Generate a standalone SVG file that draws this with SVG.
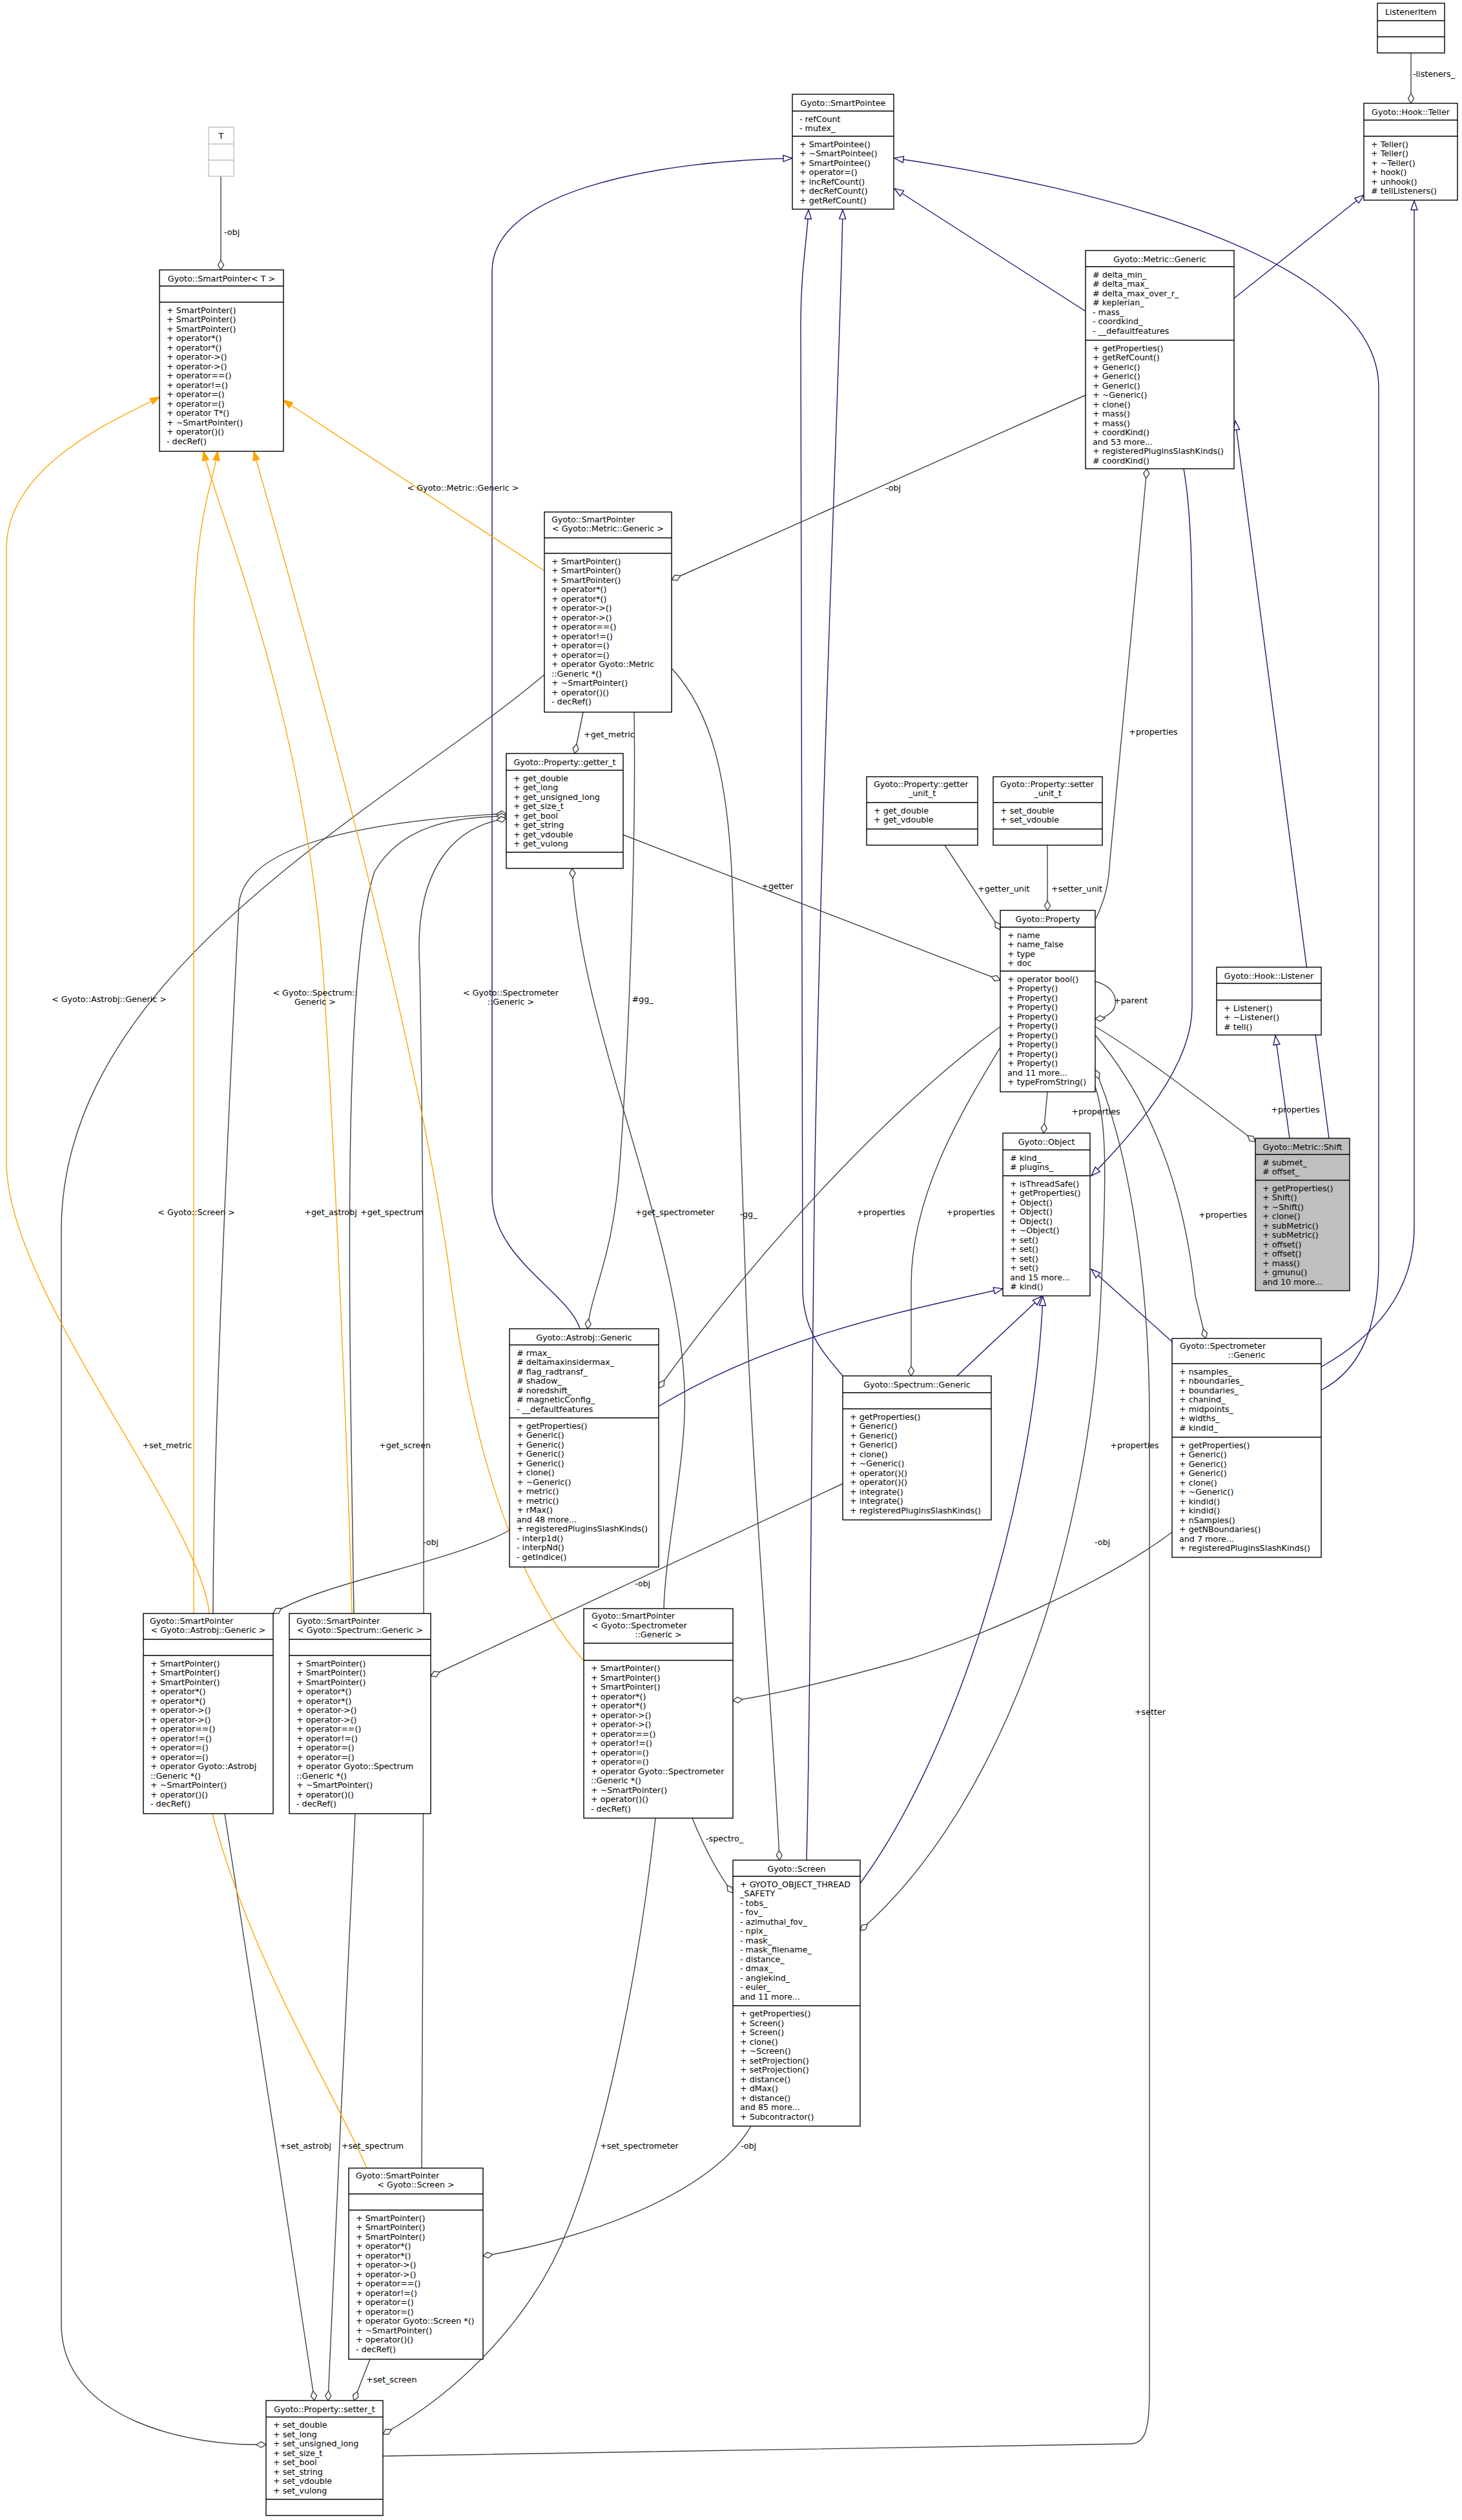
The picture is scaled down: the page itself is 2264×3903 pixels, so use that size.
<svg xmlns="http://www.w3.org/2000/svg" width="2264" height="3903" viewBox="0 0 2264 3903">
<style>
.b{fill:#fff;stroke:#000;stroke-width:1.4}
.g{fill:#bfbfbf;stroke:#000;stroke-width:1.4}
.d{fill:none;stroke:#000;stroke-width:1.4}
.t{font-family:"DejaVu Sans","Liberation Sans",sans-serif;font-size:12.7px;fill:#000}
.c{text-anchor:middle}
.ih{fill:none;stroke:#191970;stroke-width:1.4;marker-end:url(#tri)}
.us{fill:none;stroke:#404040;stroke-width:1.4;marker-end:url(#dia)}
.tp{fill:none;stroke:#ffa500;stroke-width:1.4;marker-end:url(#arr)}
</style>
<defs>
<marker id="tri" markerUnits="userSpaceOnUse" viewBox="-2 -7 18 14" refX="14" refY="0" markerWidth="18" markerHeight="14" orient="auto"><path d="M0,-5 L14,0 L0,5 Z" fill="#fff" stroke="#191970" stroke-width="1.4"/></marker>
<marker id="dia" markerUnits="userSpaceOnUse" viewBox="-2 -7 19 14" refX="15" refY="0" markerWidth="19" markerHeight="14" orient="auto"><path d="M0,0 L7.5,-4.5 L15,0 L7.5,4.5 Z" fill="#fff" stroke="#404040" stroke-width="1.4"/></marker>
<marker id="arr" markerUnits="userSpaceOnUse" viewBox="-2 -7 18 14" refX="14" refY="0" markerWidth="18" markerHeight="14" orient="auto"><path d="M0,-5 L14,0 L0,5 Z" fill="#ffa500" stroke="#ffa500" stroke-width="1.4"/></marker>
</defs>
<rect x="0" y="0" width="2264" height="3903" fill="#fff"/>

<g id="connectors">
<path class="ih" d="M1681,482 L1385,292"/>
<path class="ih" d="M1911,462 L2112,302"/>
<path class="ih" d="M1997,1763 L1975,1604"/>
<path class="ih" d="M2058,1763 L1913,652"/>
<path class="ih" d="M1833,726 C1846,800 1846,900 1846,1000 L1846,1560 C1846,1650 1760,1750 1690,1821"/>
<path class="ih" d="M898,2058 C880,2000 762,1950 762,1850 L762,420 C762,300 1000,250 1227,245"/>
<path class="ih" d="M1020,2178 C1200,2070 1400,2030 1553,1996"/>
<path class="ih" d="M1305,2131 C1270,2090 1245,2060 1243,2000 L1240,500 C1240,420 1250,370 1252,325"/>
<path class="ih" d="M1482,2131 L1613,2008"/>
<path class="ih" d="M1249,2881 C1256,2600 1256,2200 1262,1800 C1275,1100 1300,600 1305,325"/>
<path class="ih" d="M1332,2917 C1470,2730 1600,2350 1615,2008"/>
<path class="ih" d="M1815,2078 L1690,1966"/>
<path class="ih" d="M2046,2117 C2130,2070 2190,2000 2190,1900 L2190,311"/>
<path class="ih" d="M2046,2153 C2110,2120 2135,2050 2135,1950 L2135,600 C2135,400 1700,290 1385,245"/>
<path class="us" d="M2185,82 L2185,160"/>
<path class="us" d="M342,273 L342,418"/>
<path class="us" d="M1681,612 L1040,898"/>
<path class="us" d="M903,1103 L890,1167"/>
<path class="us" d="M982,1103 C985,1300 975,1600 960,1800 C950,1950 915,2000 910,2058"/>
<path class="us" d="M1040,1035 C1100,1100 1130,1200 1135,1400 L1155,2000 C1165,2300 1200,2700 1207,2881"/>
<path class="us" d="M965,1293 L1549,1518"/>
<path class="us" d="M1463,1309 L1549,1440"/>
<path class="us" d="M1622,1309 L1622,1410"/>
<path class="us" d="M1697,1423 C1712,1390 1717,1370 1719,1330 L1776,726"/>
<path class="us" d="M1696,1520 C1738,1530 1738,1575 1696,1578"/>
<path class="us" d="M1696,1590 C1780,1640 1880,1720 1944,1768"/>
<path class="us" d="M1622,1691 L1616,1755"/>
<path class="us" d="M1549,1590 C1400,1700 1200,1900 1020,2150"/>
<path class="us" d="M1549,1622 C1490,1720 1411,1850 1411,1990 L1411,2131"/>
<path class="us" d="M1696,1603 C1760,1680 1830,1800 1851,2007 L1867,2073"/>
<path class="us" d="M1696,1683 C1712,1730 1715,1800 1705,2000 C1690,2400 1550,2800 1332,2990"/>
<path class="us" d="M593,3804 L1750,3785 C1775,3785 1780,3760 1780,3700 L1780,2200 C1780,1950 1740,1760 1696,1657"/>
<path class="us" d="M330,2499 C330,2200 360,1600 370,1400 C380,1300 600,1270 784,1260"/>
<path class="us" d="M548,2499 C540,2000 530,1500 580,1350 C620,1280 700,1265 784,1264"/>
<path class="us" d="M653,3358 C655,3000 660,2000 650,1500 C640,1350 700,1280 784,1268"/>
<path class="us" d="M1028,2491 C1030,2400 1065,2250 1060,2150 C1050,1900 900,1600 886,1345"/>
<path class="us" d="M843,1045 C600,1250 100,1500 95,1900 L95,3600 C95,3750 300,3790 412,3786"/>
<path class="us" d="M348,2809 L430,3340 L487,3718"/>
<path class="us" d="M550,2809 L525,3340 L508,3718"/>
<path class="us" d="M1015,2816 C990,3050 940,3300 880,3450 C830,3580 720,3700 593,3770"/>
<path class="us" d="M573,3654 L548,3718"/>
<path class="us" d="M789,2370 C700,2420 500,2450 423,2499"/>
<path class="us" d="M1305,2298 L667,2596"/>
<path class="us" d="M1815,2373 C1700,2460 1500,2540 1410,2569 C1300,2600 1200,2625 1135,2634"/>
<path class="us" d="M1072,2816 C1090,2860 1110,2900 1135,2932"/>
<path class="us" d="M1163,3293 C1100,3400 900,3470 748,3494"/>
<path class="tp" d="M843,884 L439,620"/>
<path class="tp" d="M324,2499 C310,2350 10,2000 10,1800 L10,850 C10,720 180,650 247,615"/>
<path class="tp" d="M545,2499 C540,2300 520,1800 500,1500 C470,1100 340,800 315,699"/>
<path class="tp" d="M568,3358 C500,3200 300,2900 300,2600 L300,1000 C300,800 330,750 337,699"/>
<path class="tp" d="M904,2572 C820,2480 740,2300 700,2000 C650,1600 450,900 393,699"/>
<text class="t" x="2188" y="119">-listeners_</text>
<text class="t" x="347" y="364">-obj</text>
<text class="t c" x="717" y="760">&lt; Gyoto::Metric::Generic &gt;</text>
<text class="t c" x="1383" y="760">-obj</text>
<text class="t" x="904" y="1142">+get_metric</text>
<text class="t c" x="1786" y="1138">+properties</text>
<text class="t c" x="1204" y="1377">+getter</text>
<text class="t" x="1514" y="1381">+getter_unit</text>
<text class="t" x="1628" y="1381">+setter_unit</text>
<text class="t" x="1725" y="1554">+parent</text>
<text class="t c" x="1697" y="1726">+properties</text>
<text class="t c" x="2006" y="1723">+properties</text>
<text class="t c" x="169" y="1552">&lt; Gyoto::Astrobj::Generic &gt;</text>
<text class="t c" x="488" y="1542">&lt; Gyoto::Spectrum::</text>
<text class="t c" x="488" y="1556">Generic &gt;</text>
<text class="t c" x="791" y="1542">&lt; Gyoto::Spectrometer</text>
<text class="t c" x="791" y="1556">::Generic &gt;</text>
<text class="t c" x="995" y="1552">#gg_</text>
<text class="t c" x="304" y="1882">&lt; Gyoto::Screen &gt;</text>
<text class="t c" x="512" y="1882">+get_astrobj</text>
<text class="t c" x="607" y="1882">+get_spectrum</text>
<text class="t c" x="1045" y="1882">+get_spectrometer</text>
<text class="t c" x="1159" y="1885">-gg_</text>
<text class="t c" x="1364" y="1882">+properties</text>
<text class="t c" x="1503" y="1882">+properties</text>
<text class="t" x="1856" y="1886">+properties</text>
<text class="t c" x="259" y="2243">+set_metric</text>
<text class="t c" x="627" y="2243">+get_screen</text>
<text class="t c" x="1757" y="2243">+properties</text>
<text class="t c" x="667" y="2393">-obj</text>
<text class="t c" x="995" y="2457">-obj</text>
<text class="t c" x="1707" y="2393">-obj</text>
<text class="t c" x="1781" y="2656">+setter</text>
<text class="t" x="1093" y="2852">-spectro_</text>
<text class="t c" x="473" y="3328">+set_astrobj</text>
<text class="t c" x="577" y="3328">+set_spectrum</text>
<text class="t c" x="990" y="3328">+set_spectrometer</text>
<text class="t c" x="1159" y="3328">-obj</text>
<text class="t" x="567" y="3690">+set_screen</text>
</g>

<g id="ListenerItem">
<rect class="b" x="2133" y="5" width="104" height="77"/>
<path class="d" d="M2133,32H2237M2133,57H2237"/>
<text class="t c" x="2185" y="22.5">ListenerItem</text>
</g>

<g id="Teller">
<rect class="b" x="2112" y="160" width="145" height="150"/>
<path class="d" d="M2112,186H2257M2112,211H2257"/>
<text class="t c" x="2184.5" y="177.5">Gyoto::Hook::Teller</text>
<text class="t" x="2123" y="227.5"><tspan x="2123">+ Teller()</tspan><tspan x="2123" dy="14.5">+ Teller()</tspan><tspan x="2123" dy="14.5">+ ~Teller()</tspan><tspan x="2123" dy="14.5">+ hook()</tspan><tspan x="2123" dy="14.5">+ unhook()</tspan><tspan x="2123" dy="14.5"># tellListeners()</tspan></text>
</g>

<g id="SmartPointee">
<rect class="b" x="1227" y="146" width="157" height="178"/>
<path class="d" d="M1227,172H1384M1227,211H1384"/>
<text class="t c" x="1305.5" y="163.5">Gyoto::SmartPointee</text>
<text class="t" x="1238" y="188.5"><tspan x="1238">- refCount</tspan><tspan x="1238" dy="14.5">- mutex_</tspan></text>
<text class="t" x="1238" y="227.5"><tspan x="1238">+ SmartPointee()</tspan><tspan x="1238" dy="14.5">+ ~SmartPointee()</tspan><tspan x="1238" dy="14.5">+ SmartPointee()</tspan><tspan x="1238" dy="14.5">+ operator=()</tspan><tspan x="1238" dy="14.5">+ incRefCount()</tspan><tspan x="1238" dy="14.5">+ decRefCount()</tspan><tspan x="1238" dy="14.5">+ getRefCount()</tspan></text>
</g>

<g id="T">
<rect x="323" y="197" width="39" height="76" fill="#fff" stroke="#bfbfbf" stroke-width="1.4"/>
<path d="M323,223H362M323,248H362" stroke="#bfbfbf" stroke-width="1.4"/>
<text class="t c" x="342.5" y="214.5">T</text>
</g>

<g id="SmartPointerT">
<rect class="b" x="247" y="418" width="192" height="281"/>
<path class="d" d="M247,443H439M247,468H439"/>
<text class="t c" x="343" y="435.5">Gyoto::SmartPointer&lt; T &gt;</text>
<text class="t" x="258" y="484.5"><tspan x="258">+ SmartPointer()</tspan><tspan x="258" dy="14.5">+ SmartPointer()</tspan><tspan x="258" dy="14.5">+ SmartPointer()</tspan><tspan x="258" dy="14.5">+ operator*()</tspan><tspan x="258" dy="14.5">+ operator*()</tspan><tspan x="258" dy="14.5">+ operator-&gt;()</tspan><tspan x="258" dy="14.5">+ operator-&gt;()</tspan><tspan x="258" dy="14.5">+ operator==()</tspan><tspan x="258" dy="14.5">+ operator!=()</tspan><tspan x="258" dy="14.5">+ operator=()</tspan><tspan x="258" dy="14.5">+ operator=()</tspan><tspan x="258" dy="14.5">+ operator T*()</tspan><tspan x="258" dy="14.5">+ ~SmartPointer()</tspan><tspan x="258" dy="14.5">+ operator()()</tspan><tspan x="258" dy="14.5">- decRef()</tspan></text>
</g>

<g id="MetricGeneric">
<rect class="b" x="1681" y="388" width="230" height="338"/>
<path class="d" d="M1681,413H1911M1681,527H1911"/>
<text class="t c" x="1796" y="405.5">Gyoto::Metric::Generic</text>
<text class="t" x="1692" y="429.5"><tspan x="1692"># delta_min_</tspan><tspan x="1692" dy="14.5"># delta_max_</tspan><tspan x="1692" dy="14.5"># delta_max_over_r_</tspan><tspan x="1692" dy="14.5"># keplerian_</tspan><tspan x="1692" dy="14.5">- mass_</tspan><tspan x="1692" dy="14.5">- coordkind_</tspan><tspan x="1692" dy="14.5">- __defaultfeatures</tspan></text>
<text class="t" x="1692" y="543.5"><tspan x="1692">+ getProperties()</tspan><tspan x="1692" dy="14.5">+ getRefCount()</tspan><tspan x="1692" dy="14.5">+ Generic()</tspan><tspan x="1692" dy="14.5">+ Generic()</tspan><tspan x="1692" dy="14.5">+ Generic()</tspan><tspan x="1692" dy="14.5">+ ~Generic()</tspan><tspan x="1692" dy="14.5">+ clone()</tspan><tspan x="1692" dy="14.5">+ mass()</tspan><tspan x="1692" dy="14.5">+ mass()</tspan><tspan x="1692" dy="14.5">+ coordKind()</tspan><tspan x="1692" dy="14.5">and 53 more...</tspan><tspan x="1692" dy="14.5">+ registeredPluginsSlashKinds()</tspan><tspan x="1692" dy="14.5"># coordKind()</tspan></text>
</g>

<g id="SmartPointerMetric">
<rect class="b" x="843" y="793" width="197" height="310"/>
<path class="d" d="M843,833H1040M843,857H1040"/>
<text class="t" x="854" y="809">Gyoto::SmartPointer</text>
<text class="t c" x="941.5" y="823">&lt; Gyoto::Metric::Generic &gt;</text>
<text class="t" x="854" y="873.5"><tspan x="854">+ SmartPointer()</tspan><tspan x="854" dy="14.5">+ SmartPointer()</tspan><tspan x="854" dy="14.5">+ SmartPointer()</tspan><tspan x="854" dy="14.5">+ operator*()</tspan><tspan x="854" dy="14.5">+ operator*()</tspan><tspan x="854" dy="14.5">+ operator-&gt;()</tspan><tspan x="854" dy="14.5">+ operator-&gt;()</tspan><tspan x="854" dy="14.5">+ operator==()</tspan><tspan x="854" dy="14.5">+ operator!=()</tspan><tspan x="854" dy="14.5">+ operator=()</tspan><tspan x="854" dy="14.5">+ operator=()</tspan><tspan x="854" dy="14.5">+ operator Gyoto::Metric</tspan><tspan x="854" dy="14.5">::Generic *()</tspan><tspan x="854" dy="14.5">+ ~SmartPointer()</tspan><tspan x="854" dy="14.5">+ operator()()</tspan><tspan x="854" dy="14.5">- decRef()</tspan></text>
</g>

<g id="getter_t">
<rect class="b" x="784" y="1167" width="181" height="178"/>
<path class="d" d="M784,1193H965M784,1320H965"/>
<text class="t c" x="874.5" y="1184.5">Gyoto::Property::getter_t</text>
<text class="t" x="795" y="1209.5"><tspan x="795">+ get_double</tspan><tspan x="795" dy="14.5">+ get_long</tspan><tspan x="795" dy="14.5">+ get_unsigned_long</tspan><tspan x="795" dy="14.5">+ get_size_t</tspan><tspan x="795" dy="14.5">+ get_bool</tspan><tspan x="795" dy="14.5">+ get_string</tspan><tspan x="795" dy="14.5">+ get_vdouble</tspan><tspan x="795" dy="14.5">+ get_vulong</tspan></text>
</g>

<g id="getter_unit_t">
<rect class="b" x="1342" y="1203" width="172" height="106"/>
<path class="d" d="M1342,1243H1514M1342,1284H1514"/>
<text class="t" x="1353" y="1219">Gyoto::Property::getter</text>
<text class="t c" x="1428" y="1233">_unit_t</text>
<text class="t" x="1353" y="1259.5"><tspan x="1353">+ get_double</tspan><tspan x="1353" dy="14.5">+ get_vdouble</tspan></text>
</g>

<g id="setter_unit_t">
<rect class="b" x="1538" y="1203" width="169" height="106"/>
<path class="d" d="M1538,1243H1707M1538,1284H1707"/>
<text class="t" x="1549" y="1219">Gyoto::Property::setter</text>
<text class="t c" x="1622.5" y="1233">_unit_t</text>
<text class="t" x="1549" y="1259.5"><tspan x="1549">+ set_double</tspan><tspan x="1549" dy="14.5">+ set_vdouble</tspan></text>
</g>

<g id="Property">
<rect class="b" x="1549" y="1410" width="147" height="281"/>
<path class="d" d="M1549,1436H1696M1549,1504H1696"/>
<text class="t c" x="1622.5" y="1427.5">Gyoto::Property</text>
<text class="t" x="1560" y="1452.5"><tspan x="1560">+ name</tspan><tspan x="1560" dy="14.5">+ name_false</tspan><tspan x="1560" dy="14.5">+ type</tspan><tspan x="1560" dy="14.5">+ doc</tspan></text>
<text class="t" x="1560" y="1520.5"><tspan x="1560">+ operator bool()</tspan><tspan x="1560" dy="14.5">+ Property()</tspan><tspan x="1560" dy="14.5">+ Property()</tspan><tspan x="1560" dy="14.5">+ Property()</tspan><tspan x="1560" dy="14.5">+ Property()</tspan><tspan x="1560" dy="14.5">+ Property()</tspan><tspan x="1560" dy="14.5">+ Property()</tspan><tspan x="1560" dy="14.5">+ Property()</tspan><tspan x="1560" dy="14.5">+ Property()</tspan><tspan x="1560" dy="14.5">+ Property()</tspan><tspan x="1560" dy="14.5">and 11 more...</tspan><tspan x="1560" dy="14.5">+ typeFromString()</tspan></text>
</g>

<g id="Listener">
<rect class="b" x="1884" y="1498" width="162" height="105"/>
<path class="d" d="M1884,1523H2046M1884,1549H2046"/>
<text class="t c" x="1965" y="1515.5">Gyoto::Hook::Listener</text>
<text class="t" x="1895" y="1565.5"><tspan x="1895">+ Listener()</tspan><tspan x="1895" dy="14.5">+ ~Listener()</tspan><tspan x="1895" dy="14.5"># tell()</tspan></text>
</g>

<g id="Object">
<rect class="b" x="1553" y="1755" width="135" height="252"/>
<path class="d" d="M1553,1781H1688M1553,1821H1688"/>
<text class="t c" x="1620.5" y="1772.5">Gyoto::Object</text>
<text class="t" x="1564" y="1797.5"><tspan x="1564"># kind_</tspan><tspan x="1564" dy="14.5"># plugins_</tspan></text>
<text class="t" x="1564" y="1837.5"><tspan x="1564">+ isThreadSafe()</tspan><tspan x="1564" dy="14.5">+ getProperties()</tspan><tspan x="1564" dy="14.5">+ Object()</tspan><tspan x="1564" dy="14.5">+ Object()</tspan><tspan x="1564" dy="14.5">+ Object()</tspan><tspan x="1564" dy="14.5">+ ~Object()</tspan><tspan x="1564" dy="14.5">+ set()</tspan><tspan x="1564" dy="14.5">+ set()</tspan><tspan x="1564" dy="14.5">+ set()</tspan><tspan x="1564" dy="14.5">+ set()</tspan><tspan x="1564" dy="14.5">and 15 more...</tspan><tspan x="1564" dy="14.5"># kind()</tspan></text>
</g>

<g id="MetricShift">
<rect class="g" x="1944" y="1763" width="146" height="236"/>
<path class="d" d="M1944,1788H2090M1944,1828H2090"/>
<text class="t c" x="2017" y="1780.5">Gyoto::Metric::Shift</text>
<text class="t" x="1955" y="1804.5"><tspan x="1955"># submet_</tspan><tspan x="1955" dy="14.5"># offset_</tspan></text>
<text class="t" x="1955" y="1844.5"><tspan x="1955">+ getProperties()</tspan><tspan x="1955" dy="14.5">+ Shift()</tspan><tspan x="1955" dy="14.5">+ ~Shift()</tspan><tspan x="1955" dy="14.5">+ clone()</tspan><tspan x="1955" dy="14.5">+ subMetric()</tspan><tspan x="1955" dy="14.5">+ subMetric()</tspan><tspan x="1955" dy="14.5">+ offset()</tspan><tspan x="1955" dy="14.5">+ offset()</tspan><tspan x="1955" dy="14.5">+ mass()</tspan><tspan x="1955" dy="14.5">+ gmunu()</tspan><tspan x="1955" dy="14.5">and 10 more...</tspan></text>
</g>

<g id="AstrobjGeneric">
<rect class="b" x="789" y="2058" width="231" height="369"/>
<path class="d" d="M789,2083H1020M789,2196H1020"/>
<text class="t c" x="904.5" y="2075.5">Gyoto::Astrobj::Generic</text>
<text class="t" x="800" y="2099.5"><tspan x="800"># rmax_</tspan><tspan x="800" dy="14.5"># deltamaxinsidermax_</tspan><tspan x="800" dy="14.5"># flag_radtransf_</tspan><tspan x="800" dy="14.5"># shadow_</tspan><tspan x="800" dy="14.5"># noredshift_</tspan><tspan x="800" dy="14.5"># magneticConfig_</tspan><tspan x="800" dy="14.5">- __defaultfeatures</tspan></text>
<text class="t" x="800" y="2212.5"><tspan x="800">+ getProperties()</tspan><tspan x="800" dy="14.5">+ Generic()</tspan><tspan x="800" dy="14.5">+ Generic()</tspan><tspan x="800" dy="14.5">+ Generic()</tspan><tspan x="800" dy="14.5">+ Generic()</tspan><tspan x="800" dy="14.5">+ clone()</tspan><tspan x="800" dy="14.5">+ ~Generic()</tspan><tspan x="800" dy="14.5">+ metric()</tspan><tspan x="800" dy="14.5">+ metric()</tspan><tspan x="800" dy="14.5">+ rMax()</tspan><tspan x="800" dy="14.5">and 48 more...</tspan><tspan x="800" dy="14.5">+ registeredPluginsSlashKinds()</tspan><tspan x="800" dy="14.5">- interp1d()</tspan><tspan x="800" dy="14.5">- interpNd()</tspan><tspan x="800" dy="14.5">- getIndice()</tspan></text>
</g>

<g id="SpectrumGeneric">
<rect class="b" x="1305" y="2131" width="230" height="223"/>
<path class="d" d="M1305,2157H1535M1305,2182H1535"/>
<text class="t c" x="1420" y="2148.5">Gyoto::Spectrum::Generic</text>
<text class="t" x="1316" y="2198.5"><tspan x="1316">+ getProperties()</tspan><tspan x="1316" dy="14.5">+ Generic()</tspan><tspan x="1316" dy="14.5">+ Generic()</tspan><tspan x="1316" dy="14.5">+ Generic()</tspan><tspan x="1316" dy="14.5">+ clone()</tspan><tspan x="1316" dy="14.5">+ ~Generic()</tspan><tspan x="1316" dy="14.5">+ operator()()</tspan><tspan x="1316" dy="14.5">+ operator()()</tspan><tspan x="1316" dy="14.5">+ integrate()</tspan><tspan x="1316" dy="14.5">+ integrate()</tspan><tspan x="1316" dy="14.5">+ registeredPluginsSlashKinds()</tspan></text>
</g>

<g id="SpectrometerGeneric">
<rect class="b" x="1815" y="2073" width="231" height="339"/>
<path class="d" d="M1815,2112H2046M1815,2226H2046"/>
<text class="t" x="1827" y="2089">Gyoto::Spectrometer</text>
<text class="t c" x="1930.5" y="2103">::Generic</text>
<text class="t" x="1826" y="2128.5"><tspan x="1826">+ nsamples_</tspan><tspan x="1826" dy="14.5">+ nboundaries_</tspan><tspan x="1826" dy="14.5">+ boundaries_</tspan><tspan x="1826" dy="14.5">+ chanind_</tspan><tspan x="1826" dy="14.5">+ midpoints_</tspan><tspan x="1826" dy="14.5">+ widths_</tspan><tspan x="1826" dy="14.5"># kindid_</tspan></text>
<text class="t" x="1826" y="2242.5"><tspan x="1826">+ getProperties()</tspan><tspan x="1826" dy="14.5">+ Generic()</tspan><tspan x="1826" dy="14.5">+ Generic()</tspan><tspan x="1826" dy="14.5">+ Generic()</tspan><tspan x="1826" dy="14.5">+ clone()</tspan><tspan x="1826" dy="14.5">+ ~Generic()</tspan><tspan x="1826" dy="14.5">+ kindid()</tspan><tspan x="1826" dy="14.5">+ kindid()</tspan><tspan x="1826" dy="14.5">+ nSamples()</tspan><tspan x="1826" dy="14.5">+ getNBoundaries()</tspan><tspan x="1826" dy="14.5">and 7 more...</tspan><tspan x="1826" dy="14.5">+ registeredPluginsSlashKinds()</tspan></text>
</g>

<g id="SmartPointerAstrobj">
<rect class="b" x="222" y="2499" width="201" height="310"/>
<path class="d" d="M222,2539H423M222,2564H423"/>
<text class="t" x="232" y="2515">Gyoto::SmartPointer</text>
<text class="t c" x="322.5" y="2529">&lt; Gyoto::Astrobj::Generic &gt;</text>
<text class="t" x="233" y="2580.5"><tspan x="233">+ SmartPointer()</tspan><tspan x="233" dy="14.5">+ SmartPointer()</tspan><tspan x="233" dy="14.5">+ SmartPointer()</tspan><tspan x="233" dy="14.5">+ operator*()</tspan><tspan x="233" dy="14.5">+ operator*()</tspan><tspan x="233" dy="14.5">+ operator-&gt;()</tspan><tspan x="233" dy="14.5">+ operator-&gt;()</tspan><tspan x="233" dy="14.5">+ operator==()</tspan><tspan x="233" dy="14.5">+ operator!=()</tspan><tspan x="233" dy="14.5">+ operator=()</tspan><tspan x="233" dy="14.5">+ operator=()</tspan><tspan x="233" dy="14.5">+ operator Gyoto::Astrobj</tspan><tspan x="233" dy="14.5">::Generic *()</tspan><tspan x="233" dy="14.5">+ ~SmartPointer()</tspan><tspan x="233" dy="14.5">+ operator()()</tspan><tspan x="233" dy="14.5">- decRef()</tspan></text>
</g>

<g id="SmartPointerSpectrum">
<rect class="b" x="448" y="2499" width="219" height="310"/>
<path class="d" d="M448,2539H667M448,2564H667"/>
<text class="t" x="459" y="2515">Gyoto::SmartPointer</text>
<text class="t c" x="557.5" y="2529">&lt; Gyoto::Spectrum::Generic &gt;</text>
<text class="t" x="459" y="2580.5"><tspan x="459">+ SmartPointer()</tspan><tspan x="459" dy="14.5">+ SmartPointer()</tspan><tspan x="459" dy="14.5">+ SmartPointer()</tspan><tspan x="459" dy="14.5">+ operator*()</tspan><tspan x="459" dy="14.5">+ operator*()</tspan><tspan x="459" dy="14.5">+ operator-&gt;()</tspan><tspan x="459" dy="14.5">+ operator-&gt;()</tspan><tspan x="459" dy="14.5">+ operator==()</tspan><tspan x="459" dy="14.5">+ operator!=()</tspan><tspan x="459" dy="14.5">+ operator=()</tspan><tspan x="459" dy="14.5">+ operator=()</tspan><tspan x="459" dy="14.5">+ operator Gyoto::Spectrum</tspan><tspan x="459" dy="14.5">::Generic *()</tspan><tspan x="459" dy="14.5">+ ~SmartPointer()</tspan><tspan x="459" dy="14.5">+ operator()()</tspan><tspan x="459" dy="14.5">- decRef()</tspan></text>
</g>

<g id="SmartPointerSpectrometer">
<rect class="b" x="904" y="2491.5" width="231" height="324.5"/>
<path class="d" d="M904,2545H1135M904,2571.5H1135"/>
<text class="t" x="916" y="2507">Gyoto::SmartPointer</text>
<text class="t" x="916" y="2521.5">&lt; Gyoto::Spectrometer</text>
<text class="t c" x="1019.5" y="2536">::Generic &gt;</text>
<text class="t" x="915" y="2588"><tspan x="915">+ SmartPointer()</tspan><tspan x="915" dy="14.5">+ SmartPointer()</tspan><tspan x="915" dy="14.5">+ SmartPointer()</tspan><tspan x="915" dy="14.5">+ operator*()</tspan><tspan x="915" dy="14.5">+ operator*()</tspan><tspan x="915" dy="14.5">+ operator-&gt;()</tspan><tspan x="915" dy="14.5">+ operator-&gt;()</tspan><tspan x="915" dy="14.5">+ operator==()</tspan><tspan x="915" dy="14.5">+ operator!=()</tspan><tspan x="915" dy="14.5">+ operator=()</tspan><tspan x="915" dy="14.5">+ operator=()</tspan><tspan x="915" dy="14.5">+ operator Gyoto::Spectrometer</tspan><tspan x="915" dy="14.5">::Generic *()</tspan><tspan x="915" dy="14.5">+ ~SmartPointer()</tspan><tspan x="915" dy="14.5">+ operator()()</tspan><tspan x="915" dy="14.5">- decRef()</tspan></text>
</g>

<g id="Screen">
<rect class="b" x="1135" y="2881" width="197" height="412"/>
<path class="d" d="M1135,2906H1332M1135,3106.5H1332"/>
<text class="t c" x="1233.5" y="2898.5">Gyoto::Screen</text>
<text class="t" x="1146" y="2922.5"><tspan x="1146">+ GYOTO_OBJECT_THREAD</tspan><tspan x="1146" dy="14.5">_SAFETY</tspan><tspan x="1146" dy="14.5">- tobs_</tspan><tspan x="1146" dy="14.5">- fov_</tspan><tspan x="1146" dy="14.5">- azimuthal_fov_</tspan><tspan x="1146" dy="14.5">- npix_</tspan><tspan x="1146" dy="14.5">- mask_</tspan><tspan x="1146" dy="14.5">- mask_filename_</tspan><tspan x="1146" dy="14.5">- distance_</tspan><tspan x="1146" dy="14.5">- dmax_</tspan><tspan x="1146" dy="14.5">- anglekind_</tspan><tspan x="1146" dy="14.5">- euler_</tspan><tspan x="1146" dy="14.5">and 11 more...</tspan></text>
<text class="t" x="1146" y="3123"><tspan x="1146">+ getProperties()</tspan><tspan x="1146" dy="14.5">+ Screen()</tspan><tspan x="1146" dy="14.5">+ Screen()</tspan><tspan x="1146" dy="14.5">+ clone()</tspan><tspan x="1146" dy="14.5">+ ~Screen()</tspan><tspan x="1146" dy="14.5">+ setProjection()</tspan><tspan x="1146" dy="14.5">+ setProjection()</tspan><tspan x="1146" dy="14.5">+ distance()</tspan><tspan x="1146" dy="14.5">+ dMax()</tspan><tspan x="1146" dy="14.5">+ distance()</tspan><tspan x="1146" dy="14.5">and 85 more...</tspan><tspan x="1146" dy="14.5">+ Subcontractor()</tspan></text>
</g>

<g id="SmartPointerScreen">
<rect class="b" x="540" y="3358" width="208" height="296"/>
<path class="d" d="M540,3398H748M540,3423H748"/>
<text class="t" x="551" y="3374">Gyoto::SmartPointer</text>
<text class="t c" x="644" y="3388">&lt; Gyoto::Screen &gt;</text>
<text class="t" x="551" y="3439.5"><tspan x="551">+ SmartPointer()</tspan><tspan x="551" dy="14.5">+ SmartPointer()</tspan><tspan x="551" dy="14.5">+ SmartPointer()</tspan><tspan x="551" dy="14.5">+ operator*()</tspan><tspan x="551" dy="14.5">+ operator*()</tspan><tspan x="551" dy="14.5">+ operator-&gt;()</tspan><tspan x="551" dy="14.5">+ operator-&gt;()</tspan><tspan x="551" dy="14.5">+ operator==()</tspan><tspan x="551" dy="14.5">+ operator!=()</tspan><tspan x="551" dy="14.5">+ operator=()</tspan><tspan x="551" dy="14.5">+ operator=()</tspan><tspan x="551" dy="14.5">+ operator Gyoto::Screen *()</tspan><tspan x="551" dy="14.5">+ ~SmartPointer()</tspan><tspan x="551" dy="14.5">+ operator()()</tspan><tspan x="551" dy="14.5">- decRef()</tspan></text>
</g>

<g id="setter_t">
<rect class="b" x="412" y="3718" width="181" height="178"/>
<path class="d" d="M412,3743.5H593M412,3871H593"/>
<text class="t c" x="502.5" y="3735.5">Gyoto::Property::setter_t</text>
<text class="t" x="423" y="3760"><tspan x="423">+ set_double</tspan><tspan x="423" dy="14.5">+ set_long</tspan><tspan x="423" dy="14.5">+ set_unsigned_long</tspan><tspan x="423" dy="14.5">+ set_size_t</tspan><tspan x="423" dy="14.5">+ set_bool</tspan><tspan x="423" dy="14.5">+ set_string</tspan><tspan x="423" dy="14.5">+ set_vdouble</tspan><tspan x="423" dy="14.5">+ set_vulong</tspan></text>
</g>
</svg>
